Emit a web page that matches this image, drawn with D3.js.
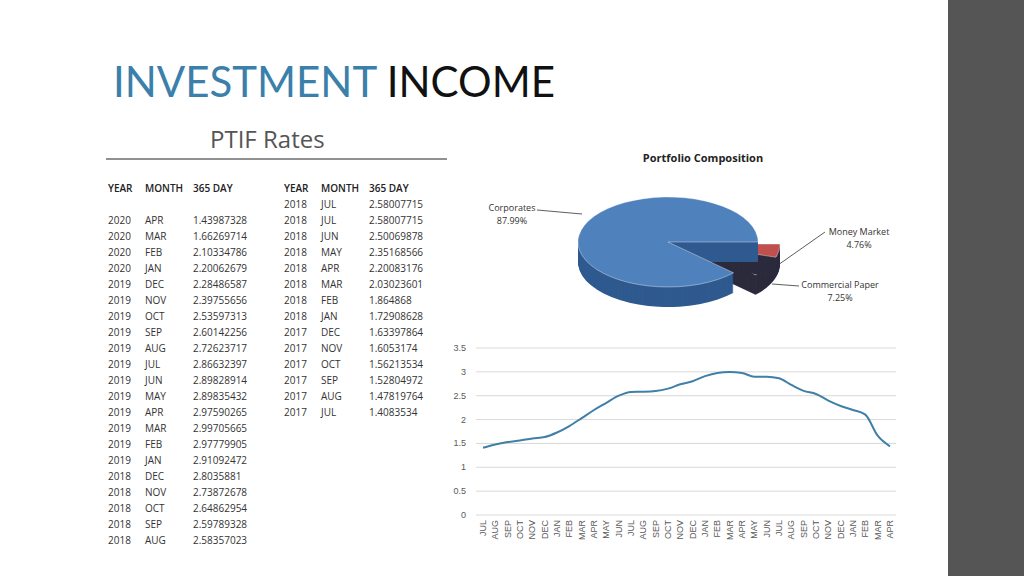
<!DOCTYPE html>
<html><head><meta charset="utf-8">
<script src="https://cdn.jsdelivr.net/npm/d3@7"></script>
<style>body{margin:0;background:#fff;font-family:"Open Sans",sans-serif}</style>
</head><body>
<svg id="c" width="1024" height="576"></svg>
<script>
const years = ["2017","2017","2017","2017","2017","2017","2018","2018","2018","2018","2018","2018","2018","2018","2018","2018","2018","2018","2019","2019","2019","2019","2019","2019","2019","2019","2019","2019","2019","2019","2020","2020","2020","2020"];
const months = ["JUL","AUG","SEP","OCT","NOV","DEC","JAN","FEB","MAR","APR","MAY","JUN","JUL","AUG","SEP","OCT","NOV","DEC","JAN","FEB","MAR","APR","MAY","JUN","JUL","AUG","SEP","OCT","NOV","DEC","JAN","FEB","MAR","APR"];
const rateText = ["1.4083534","1.47819764","1.52804972","1.56213534","1.6053174","1.63397864","1.72908628","1.864868","2.03023601","2.20083176","2.35168566","2.50069878","2.58007715","2.58357023","2.59789328","2.64862954","2.73872678","2.8035881","2.91092472","2.97779905","2.99705665","2.97590265","2.89835432","2.89828914","2.86632397","2.72623717","2.60142256","2.53597313","2.39755656","2.28486587","2.20062679","2.10334786","1.66269714","1.43987328"];
const rates = rateText.map(Number);
const yTicks = [0, 0.5, 1, 1.5, 2, 2.5, 3, 3.5];
const sliceNames = ["Money Market", "Commercial Paper", "Corporates"];
const sliceShares = [4.76, 7.25, 87.99];
const sliceColors = ["#c0504d", "#9bbb59", "#4f81bd"];
const sliceSides = ["#7a2e2c", "#5c7a2a", "#2f5a8f"];

const svg = d3.select("#c");

// side bar
svg.append("rect").attr("x", 948).attr("y", 0).attr("width", 76).attr("height", 576).attr("fill", "#555555");

// title
const t = svg.append("text").attr("x", 113).attr("y", 97).style("font-size", "42px").style("font-family", "Lato, 'Open Sans', sans-serif");
t.append("tspan").attr("fill", "#3b7fab").text("INVESTMENT ");
t.append("tspan").attr("fill", "#111").text("INCOME");
svg.append("text").attr("x", 210).attr("y", 148).attr("fill", "#555").style("font-size", "24px").text("PTIF Rates");
svg.append("line").attr("x1", 106).attr("x2", 447).attr("y1", 159).attr("y2", 159).attr("stroke", "#222");

// tables (newest first)
const rows = d3.range(rates.length).reverse().map((i) => ({ y: years[i], m: months[i], v: rateText[i] }));
const leftRows = rows.slice(0, 21);
const rightRows = rows.slice(21);
function table(x0, data, startRow) {
  const cols = [0, 37, 85];
  ["YEAR", "MONTH", "365 DAY"].forEach((h, j) =>
    svg.append("text").attr("x", x0 + cols[j]).attr("y", 192).attr("fill", "#222").style("font-size", "10px").style("font-weight", "600").text(h));
  data.forEach((r, i) => {
    [r.y, r.m, r.v].forEach((s, j) =>
      svg.append("text").attr("x", x0 + cols[j]).attr("y", 208 + (i + startRow) * 16).attr("fill", "#333").style("font-size", "10px").text(s));
  });
}
table(108, leftRows, 1);
table(284, [{ y: "2018", m: "JUL", v: "2.58007715" }].concat(rightRows.slice(0)), 0);

// line chart
const x = d3.scalePoint().domain(d3.range(rates.length)).range([483, 890]);
const y = d3.scaleLinear().domain([0, 3.5]).range([515, 348]);
const g = svg.append("g");
yTicks.forEach((v) => {
  g.append("line").attr("x1", 476).attr("x2", 896).attr("y1", y(v)).attr("y2", y(v)).attr("stroke", "#d9d9d9");
  g.append("text").attr("x", 466).attr("y", y(v) + 3).attr("text-anchor", "end").attr("fill", "#595959").style("font-size", "9px").style("font-family", "Arial, 'Liberation Sans'").text(v);
});
months.forEach((m, i) => {
  g.append("text").attr("transform", `translate(${x(i) + 3},520) rotate(-90)`).attr("text-anchor", "end").attr("fill", "#595959").style("font-size", "9px").style("font-family", "Arial, 'Liberation Sans'").text(m);
});
g.append("path").datum(rates).attr("fill", "none").attr("stroke", "#3f7fa8").attr("stroke-width", 2)
  .attr("d", d3.line().x((d, i) => x(i)).y((d) => y(d)).curve(d3.curveMonotoneX));

// pie
svg.append("text").attr("x", 703).attr("y", 162).attr("text-anchor", "middle").attr("fill", "#222").style("font-size", "11px").style("font-weight", "bold").text("Portfolio Composition");
const pie = d3.pie().sort(null).value((d) => d).startAngle(Math.PI * 0.5).endAngle(Math.PI * 2.5);
const arcs = pie(sliceShares);
const R = 90, sy = 0.5, depth = 20, cx = 668, cy = 242;
const arc = d3.arc().innerRadius(0).outerRadius(R);
const offs = [[22, 2], [22, 2], [0, 0]];
[1, 0].concat([2]).forEach((k) => {
  const a = arcs[k];
  const pg = svg.append("g").attr("transform", `translate(${cx + offs[k][0]},${cy + offs[k][1]})`);
  for (let d = depth; d > 0; d -= 1) {
    pg.append("path").attr("d", arc(a)).attr("transform", `translate(0,${d}) scale(1,${sy})`).attr("fill", k === 2 ? sliceSides[2] : "#2b2b3d");
  }
  pg.append("path").attr("d", arc(a)).attr("transform", `scale(1,${sy})`).attr("fill", sliceColors[k]).attr("stroke", "#fff").attr("stroke-width", 0.5);
});

function label(lines, lx, ly, pts, anchor) {
  svg.append("path").attr("d", d3.line()(pts)).attr("fill", "none").attr("stroke", "#333").attr("stroke-width", 0.8);
  lines.forEach((s, i) => svg.append("text").attr("x", lx).attr("y", ly + i * 13).attr("text-anchor", anchor).attr("fill", "#333").style("font-size", "9px").text(s));
}
label([sliceNames[2], sliceShares[2].toFixed(2) + "%"], 512, 211, [[537, 210], [582, 214]], "middle");
label([sliceNames[0], sliceShares[0].toFixed(2) + "%"], 859, 235, [[825, 232], [778, 265]], "middle");
label([sliceNames[1], sliceShares[1].toFixed(2) + "%"], 840, 288, [[799, 286], [772, 284]], "middle");
</script>
</body></html>
